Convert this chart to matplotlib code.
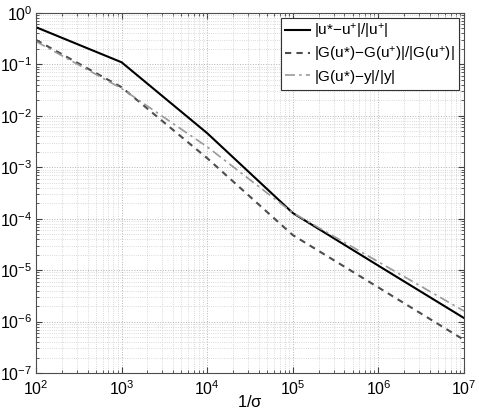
import numpy as np
import matplotlib
matplotlib.use("Agg")
import matplotlib.pyplot as plt
from matplotlib.ticker import NullFormatter

plt.rcParams['font.family'] = ['Liberation Sans', 'DejaVu Sans']
plt.rcParams['mathtext.fontset'] = 'custom'
plt.rcParams['mathtext.rm'] = 'Liberation Sans'
plt.rcParams['mathtext.it'] = 'Liberation Sans'

# data
inv_sigma = [1e2, 1e3, 1e4, 1e5, 1e6, 1e7]
err_u = [0.53, 0.11, 4.6e-3, 1.29e-4, 1.22e-5, 1.17e-6]
err_G = [0.30, 0.036, 1.5e-3, 4.8e-5, 4.6e-6, 4.4e-7]
err_y = [0.28, 0.034, 2.5e-3, 1.3e-4, 1.45e-5, 1.6e-6]

fig = plt.figure(figsize=(4.79, 4.13), dpi=100)
ax = fig.add_axes([0.0752, 0.0969, 0.8935, 0.8716])

ax.loglog(inv_sigma, err_u, color='black', lw=1.5, label=r'|u*$-$u$^{+}$|/|u$^{+}$|')
ax.loglog(inv_sigma, err_G, color='0.3', lw=1.5, ls=(0, (3, 2.5)),
          label=r'|G(u*)$-$G(u$^{+}$)|/|G(u$^{+}$)|')
ax.loglog(inv_sigma, err_y, color='0.6', lw=1.2, ls=(0, (6, 2.5, 1.5, 2.5)),
          label=r'|G(u*)$-$y|/|y|')

ax.set_xlim(1e2, 1e7)
ax.set_ylim(1e-7, 1e0)
ax.set_xlabel(r'1/$\sigma$', fontsize=12, labelpad=-3)
ax.xaxis.set_minor_formatter(NullFormatter())
ax.yaxis.set_minor_formatter(NullFormatter())

ax.grid(True, which='major', ls=':', color='0.7', lw=0.7)
ax.grid(True, which='minor', ls=':', color='0.8', lw=0.6)
ax.tick_params(which='both', direction='in', top=True, right=True, labelsize=11.5, colors='0.25')
ax.tick_params(which='major', length=4)
ax.tick_params(axis='x', which='major', pad=4.5)
ax.tick_params(axis='y', which='major', pad=2.5)
ax.tick_params(which='minor', length=2)
ax.tick_params(labelcolor='black')
for s in ax.spines.values():
    s.set_color('0.3')

leg = ax.legend(loc='upper right', fontsize=11, handlelength=1.6, handletextpad=0.3,
                fancybox=False, framealpha=1, edgecolor='0.2', borderaxespad=0.3,
                labelspacing=0.25, borderpad=0.3)
leg.get_frame().set_linewidth(0.8)

fig.savefig('out.png', dpi=100)
